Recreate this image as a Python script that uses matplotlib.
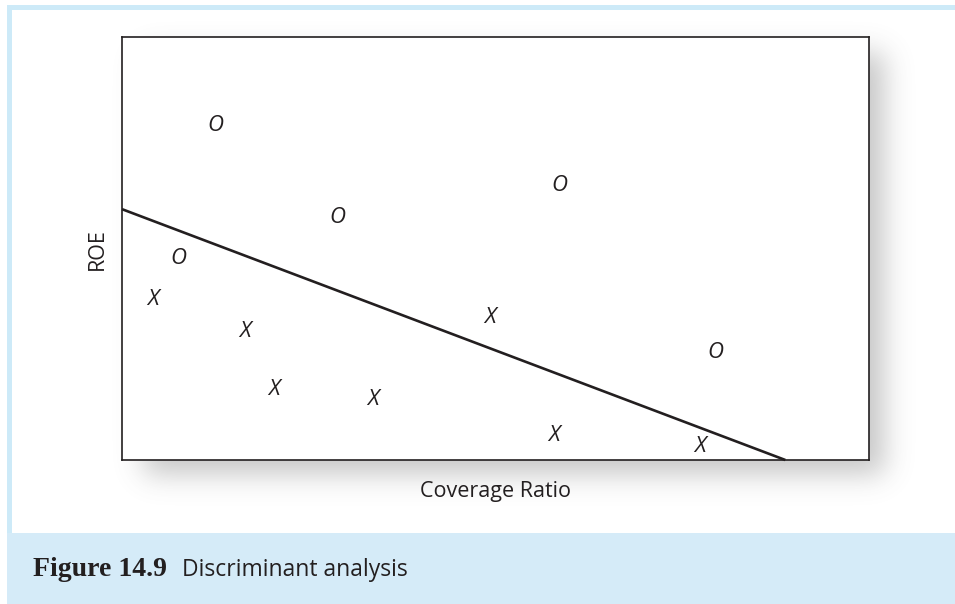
import numpy as np
import matplotlib.pyplot as plt
from matplotlib.patches import Rectangle

# group "O" points (coverage ratio, ROE)
o_x = [12.5, 28.8, 58.6, 7.6, 79.5]
o_y = [79.7, 57.9, 65.5, 48.2, 26.0]
# group "X" points
x_x = [4.2, 16.5, 20.3, 33.6, 49.3, 57.8, 77.4]
x_y = [38.5, 31.0, 17.3, 14.9, 34.3, 6.4, 3.8]
# discriminant line endpoints
line_x = [0.0, 88.8]
line_y = [59.3, 0.0]

W, H = 955, 604
fig = plt.figure(figsize=(W / 100, H / 100), dpi=100)

# background: frame, caption band, drop shadow
bg = fig.add_axes([0, 0, 1, 1])
bg.set_xlim(0, W)
bg.set_ylim(H, 0)
bg.axis("off")

box = (122, 37, 869, 460)  # left, top, right, bottom in pixels


def blur(a, sigma):
    r = int(3 * sigma)
    k = np.exp(-0.5 * (np.arange(-r, r + 1) / sigma) ** 2)
    k /= k.sum()
    a = np.apply_along_axis(lambda m: np.convolve(m, k, mode="same"), 0, a)
    a = np.apply_along_axis(lambda m: np.convolve(m, k, mode="same"), 1, a)
    return a


mask = np.zeros((H, W))
mask[box[1] + 16:box[3] + 14, box[0] + 22:box[2] + 14] = 1.0
mask = blur(mask, 14) * 0.36
shadow = np.zeros((H, W, 4))
shadow[..., :3] = 0.38
shadow[..., 3] = mask
bg.imshow(shadow, extent=(0, W, H, 0), aspect="auto", zorder=1)

bg.add_patch(Rectangle((7, 5), W - 7, 5, color="#cdeaf8", lw=0, zorder=2))
bg.add_patch(Rectangle((7, 5), 5, 528, color="#cdeaf8", lw=0, zorder=2))
bg.add_patch(Rectangle((7, 533), W - 7, H - 533, color="#d5ebf8", lw=0, zorder=2))

bg.text(33, 570, "Figure 14.9", fontsize=20, fontweight="bold",
        family="Liberation Serif", color="#231f20", va="center", ha="left", zorder=3)
bg.text(182, 570, "Discriminant analysis", fontsize=16.5, family="Open Sans",
        color="#231f20", va="center", ha="left", zorder=3)

bg.text(97, 249, "ROE", fontsize=15.5, family="Open Sans", rotation=90,
        color="#231f20", va="center", ha="center", zorder=3)
bg.text(495, 491, "Coverage Ratio", fontsize=15.5, family="Open Sans",
        color="#231f20", va="center", ha="center", zorder=3)

# main plot area
ax = fig.add_axes([box[0] / W, 1 - box[3] / H, (box[2] - box[0]) / W, (box[3] - box[1]) / H])
ax.set_xlim(0, 100)
ax.set_ylim(0, 100)
ax.set_xticks([])
ax.set_yticks([])
for s in ax.spines.values():
    s.set_linewidth(1.2)
    s.set_color("#231f20")

ax.plot(line_x, line_y, color="#231f20", lw=1.9, solid_capstyle="butt", clip_on=False)

for xv, yv in zip(o_x, o_y):
    ax.text(xv, yv, "O", fontsize=16, fontstyle="italic", family="Open Sans",
            color="#231f20", ha="center", va="center_baseline")
for xv, yv in zip(x_x, x_y):
    ax.text(xv, yv, "X", fontsize=16, fontstyle="italic", family="Open Sans",
            color="#231f20", ha="center", va="center_baseline")

fig.savefig("out.png", dpi=100)
